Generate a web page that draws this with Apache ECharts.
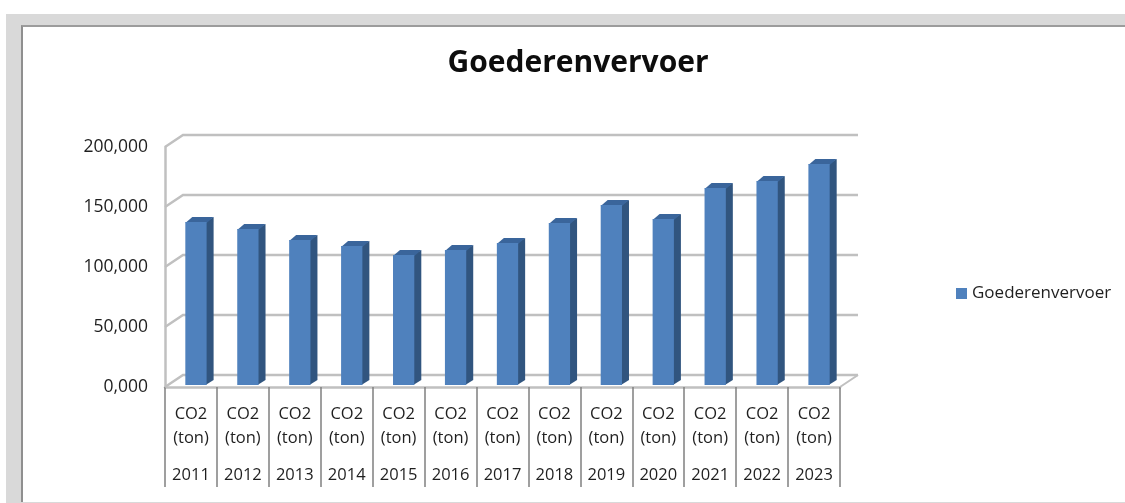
<!doctype html>
<html lang="en">

<head>
	<meta charset="utf-8" />
	<title>Goederenvervoer</title>
	<script src="https://cdn.jsdelivr.net/npm/echarts@6/dist/echarts.min.js"></script>
	<style>
		html, body { margin: 0; padding: 0; background: #fff; }
		#page { position: relative; width: 1125px; height: 503px; overflow: hidden; filter: blur(0.55px); }
		#frame { position: absolute; left: 6px; top: 14px; right: 0; bottom: 0; background: #d9d9d9; }
		#sheet { position: absolute; left: 21px; top: 25px; right: 0; bottom: 1px; background: #fff;
			border-left: 2px solid #8f8f8f; border-top: 2px solid #9c9c9c; }
		#chart { position: absolute; left: 0; top: 0; width: 1125px; height: 503px; }
	</style>
</head>

<body>
	<div id="page">
		<div id="frame"></div>
		<div id="sheet"></div>
		<div id="chart"></div>
	</div>
	<script>
		const years = ['2011', '2012', '2013', '2014', '2015', '2016', '2017', '2018', '2019', '2020', '2021', '2022', '2023'];
		const unitLabels = years.map(() => 'CO2\n(ton)');
		const co2Tons = [135800, 130000, 120800, 115800, 108300, 112500, 118300, 135000, 150000, 138300, 164200, 170000, 184200];
		const yTicks = [0, 50000, 100000, 150000, 200000];
		const yTickLabels = ['0,000', '50,000', '100,000', '150,000', '200,000'];

		const fontFamily = '"Open Sans", sans-serif';
		const textColor = '#1f1f1f';
		const wallColor = '#c0c0c0';
		// depth of the fake 3d box, back wall vs front plane
		const wallDx = 18;
		const wallDy = -12;

		function renderWall(params, api) {
			const v = api.value(1);
			const y = api.coord([0, v])[1];
			const left = params.coordSys.x;
			const right = left + params.coordSys.width;
			const children = [{
				type: 'polyline',
				shape: { points: [[left, y], [left + wallDx, y + wallDy], [right + wallDx, y + wallDy]] },
				style: { fill: 'none', stroke: wallColor, lineWidth: 2.5 }
			}];
			if (v === 0) {
				children.push({
					type: 'line',
					shape: { x1: right, y1: y, x2: right + wallDx, y2: y + wallDy },
					style: { stroke: wallColor, lineWidth: 2 }
				});
			}
			return { type: 'group', children };
		}

		function renderBar(params, api) {
			const band = api.size([1, 0])[0];
			const base = api.coord([api.value(0), 0]);
			const top = api.coord([api.value(0), api.value(1)]);
			const w = band * 0.41;
			const x0 = base[0] + 5 - w / 2;
			const x1 = x0 + w;
			const yb = base[1] - 2;
			const yt = top[1] - 2;
			const dx = 7;
			const dy = -5;
			return {
				type: 'group',
				children: [
					{
						type: 'polygon',
						shape: { points: [[x1 - 1, yb], [x1 + dx, yb + dy], [x1 + dx, yt + dy], [x1 - 1, yt]] },
						style: { fill: '#31557f' }
					},
					{
						type: 'polygon',
						shape: { points: [[x0, yt + 1], [x0 + dx, yt + dy], [x1 + dx, yt + dy], [x1, yt + 1]] },
						style: { fill: '#3a659b' }
					},
					{
						type: 'rect',
						shape: { x: x0, y: yt, width: w, height: yb - yt },
						style: { fill: api.visual('color') }
					}
				]
			};
		}

		const chart = echarts.init(document.getElementById('chart'), null, { renderer: 'canvas' });
		chart.setOption({
			animation: false,
			backgroundColor: 'transparent',
			title: {
				text: 'Goederenvervoer',
				left: 578,
				top: 48,
				textAlign: 'center',
				padding: 0,
				textStyle: { fontFamily, fontSize: 30, fontWeight: 'bold', color: '#0d0d0d' }
			},
			legend: {
				data: ['Goederenvervoer'],
				left: 956,
				top: 285,
				padding: 0,
				itemWidth: 11,
				itemHeight: 11,
				itemGap: 5,
				icon: 'rect',
				selectedMode: false,
				textStyle: { fontFamily, fontSize: 17, color: textColor, padding: 0 }
			},
			grid: { left: 165, top: 147, width: 675, height: 240 },
			xAxis: [
				{
					type: 'category',
					data: unitLabels,
					position: 'bottom',
					axisLine: { show: true, lineStyle: { color: wallColor, width: 2.5 } },
					axisTick: { show: true, length: 100, lineStyle: { color: '#808080', width: 1.5 } },
					axisLabel: {
						interval: 0, margin: 15, lineHeight: 24, fontFamily, fontSize: 16.5, color: textColor
					}
				},
				{
					type: 'category',
					data: years,
					position: 'bottom',
					axisLine: { show: false },
					axisTick: { show: false },
					axisLabel: { interval: 0, margin: 80, fontFamily, fontSize: 16.5, color: textColor }
				}
			],
			yAxis: {
				type: 'value',
				min: 0,
				max: 200000,
				interval: 50000,
				axisLine: { show: true, lineStyle: { color: wallColor, width: 2.5 } },
				axisTick: { show: false },
				splitLine: { show: false },
				axisLabel: {
					margin: 17,
					fontFamily,
					fontSize: 17.5,
					color: textColor,
					formatter: (value, index) => yTickLabels[index]
				}
			},
			series: [
				{
					name: 'wall',
					type: 'custom',
					z: 1,
					silent: true,
					renderItem: renderWall,
					encode: { x: 0, y: 1 },
					data: yTicks.map(v => [0, v])
				},
				{
					name: 'Goederenvervoer',
					type: 'custom',
					z: 2,
					renderItem: renderBar,
					itemStyle: { color: '#4f81bd' },
					encode: { x: 0, y: 1 },
					data: co2Tons.map((v, i) => [i, v])
				}
			]
		});
	</script>
</body>

</html>
